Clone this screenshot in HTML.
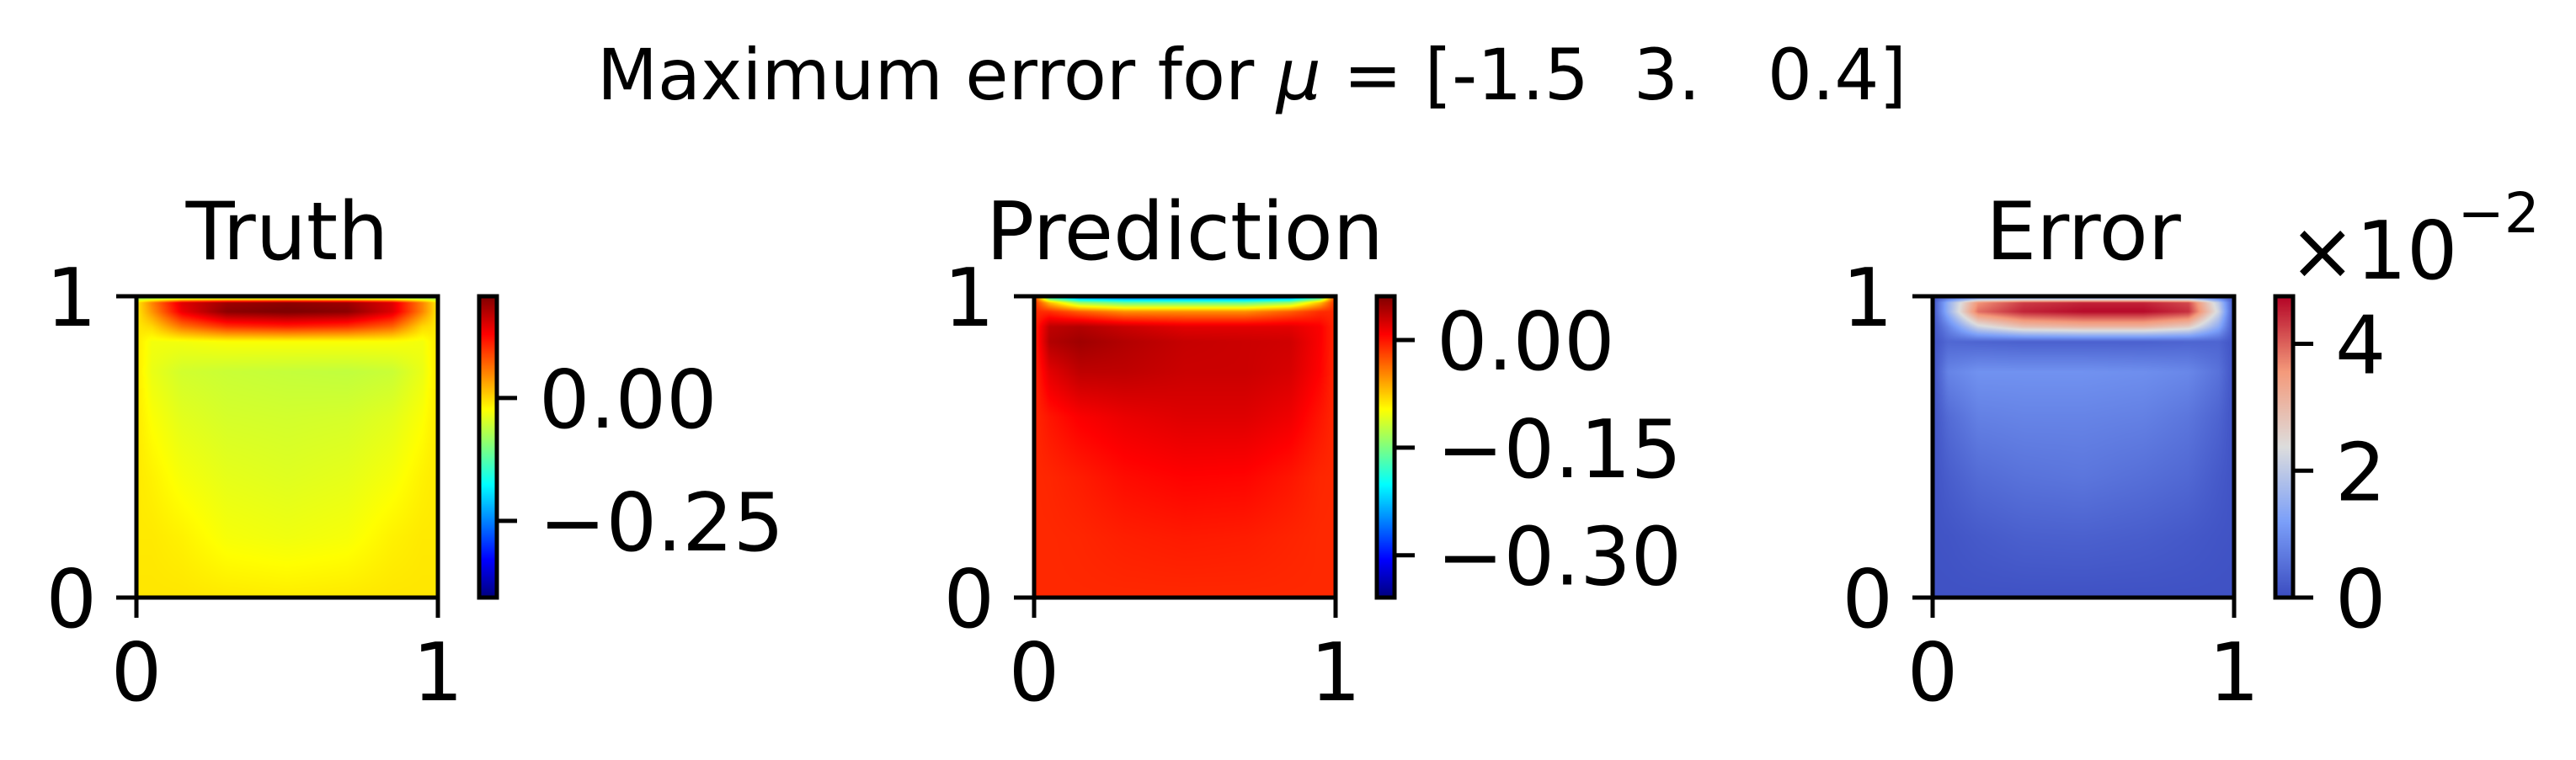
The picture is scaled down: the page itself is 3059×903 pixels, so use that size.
<!DOCTYPE html>
<html><head><meta charset="utf-8">
<style>
html,body{margin:0;padding:0;background:#fff;}
#wrap{position:relative;width:3059px;height:903px;overflow:hidden;background:#fff;}
canvas{position:absolute;}
svg{position:absolute;left:0;top:0;}
text{font-family:"DejaVu Sans","Liberation Sans",sans-serif;fill:#000;white-space:pre;}
</style></head>
<body>
<div id="wrap">
<canvas id="hm0"></canvas>
<canvas id="hm1"></canvas>
<canvas id="hm2"></canvas>
<canvas id="cb0"></canvas>
<canvas id="cb1"></canvas>
<canvas id="cb2"></canvas>
<svg id="ov" width="3059" height="903">
<text x="709" y="118" font-size="84" xml:space="preserve" textLength="1555" lengthAdjust="spacingAndGlyphs">Maximum error for <tspan font-style="italic">μ</tspan> = [-1.5  3.   0.4]</text>
<text x="2718" y="331" font-size="95">×10<tspan font-size="66" dy="-55">−2</tspan></text>
</svg>
</div>
<script>
// grid coordinates
const xCoords=[0,0.05,0.15,0.3,0.5,0.7,0.85,0.95,1];
const yCoords=[1.0,0.98,0.95,0.9,0.85,0.75,0.6,0.4,0.2,0.0];
const truthValues=[
[-0.10,-0.12,-0.14,-0.15,-0.15,-0.15,-0.14,-0.12,-0.10],
[-0.01,0.05,0.15,0.19,0.20,0.19,0.15,0.05,-0.01],
[-0.01,0.04,0.14,0.20,0.21,0.20,0.15,0.05,-0.01],
[-0.01,0.00,0.06,0.10,0.11,0.10,0.07,0.00,-0.01],
[-0.01,-0.03,-0.03,-0.025,-0.025,-0.025,-0.025,-0.03,-0.01],
[-0.01,-0.035,-0.05,-0.055,-0.058,-0.06,-0.055,-0.035,-0.01],
[-0.01,-0.025,-0.04,-0.048,-0.05,-0.048,-0.04,-0.025,-0.01],
[-0.01,-0.015,-0.028,-0.038,-0.042,-0.038,-0.028,-0.015,-0.01],
[-0.01,-0.01,-0.015,-0.028,-0.032,-0.028,-0.015,-0.01,-0.01],
[-0.008,-0.008,-0.008,-0.01,-0.012,-0.01,-0.008,-0.008,-0.008]];
const predValues=[
[-0.01,-0.2,-0.27,-0.28,-0.28,-0.28,-0.27,-0.2,-0.01],
[-0.01,-0.07,-0.14,-0.16,-0.16,-0.16,-0.14,-0.07,-0.01],
[-0.008,-0.01,-0.03,-0.05,-0.05,-0.05,-0.03,-0.01,-0.008],
[-0.008,0.035,0.04,0.03,0.02,0.02,0.02,0.01,-0.008],
[-0.008,0.04,0.048,0.04,0.032,0.03,0.028,0.01,-0.008],
[-0.008,0.02,0.035,0.035,0.03,0.03,0.025,0.008,-0.008],
[-0.008,0.0,0.01,0.017,0.022,0.022,0.015,0.0,-0.008],
[-0.008,-0.007,-0.003,0.004,0.008,0.007,0.0,-0.007,-0.008],
[-0.008,-0.008,-0.007,-0.004,-0.002,-0.003,-0.006,-0.008,-0.008],
[-0.008,-0.008,-0.008,-0.008,-0.008,-0.008,-0.008,-0.008,-0.008]];
const errValues=[
[0.1,0.3,0.5,0.5,0.5,0.5,0.5,0.3,0.1],
[0.1,1.5,3.6,4.3,4.5,4.5,4.2,2.0,0.1],
[0.1,1.5,3.9,4.5,4.7,4.7,4.4,2.2,0.1],
[0.1,0.8,2.2,2.9,3.1,3.1,2.7,1.4,0.1],
[0.1,0.4,0.35,0.3,0.3,0.3,0.35,0.35,0.1],
[0.1,0.8,1.0,1.0,1.0,0.95,0.85,0.55,0.1],
[0.1,0.45,0.75,0.8,0.8,0.75,0.6,0.35,0.1],
[0.1,0.25,0.45,0.55,0.6,0.5,0.4,0.2,0.1],
[0.1,0.12,0.2,0.28,0.3,0.25,0.18,0.12,0.1],
[0.08,0.08,0.08,0.08,0.08,0.08,0.08,0.08,0.08]];
const cbRanges=[[-0.406,0.207],[-0.359,0.061],[0,4.75]];
const cbTicks=[[0,-0.25],[0,-0.15,-0.30],[0,2,4]];
const cbTickLabels=[["0.00","−0.25"],["0.00","−0.15","−0.30"],["0","2","4"]];
const titles=["Truth","Prediction","Error"];
const axTicks=[0,1];
const axTickLabels=["0","1"];

const panels=[{x0:162,name:"truth"},{x0:1228,name:"prediction"},{x0:2295,name:"error"}];
const cbOff=407, cbW=21, axTop=352, size=358;

function jet(t){t=Math.max(0,Math.min(1,t));
 const r=Math.min(4*t-1.5,-4*t+4.5),g=Math.min(4*t-0.5,-4*t+3.5),b=Math.min(4*t+0.5,-4*t+2.5);
 const c=v=>Math.round(255*Math.max(0,Math.min(1,v)));return [c(r),c(g),c(b)];}
const cwStops=[[0,[59,76,192]],[0.25,[123,159,249]],[0.5,[221,221,221]],[0.75,[244,154,123]],[1,[180,4,38]]];
function coolwarm(t){t=Math.max(0,Math.min(1,t));for(let i=1;i<cwStops.length;i++){if(t<=cwStops[i][0]){const a=cwStops[i-1],b=cwStops[i];const f=(t-a[0])/(b[0]-a[0]);return a[1].map((v,k)=>Math.round(v+(b[1][k]-v)*f));}}return cwStops[4][1];}
const cmaps=[jet,jet,coolwarm];
const fields=[truthValues,predValues,errValues];

function seg(arr,v){for(let i=0;i<arr.length-1;i++){const a=arr[i],b=arr[i+1];const lo=Math.min(a,b),hi=Math.max(a,b);if(v>=lo&&v<=hi){return [i,(v-a)/(b-a)];}}return [arr.length-2,1];}
function sample(F,x,y){const [i,fx]=seg(xCoords,x);const [j,fy]=seg(yCoords,y);
 const a=F[j][i],b=F[j][i+1],c=F[j+1][i],d=F[j+1][i+1];
 return (a*(1-fx)+b*fx)*(1-fy)+(c*(1-fx)+d*fx)*fy;}

const ov=document.getElementById('ov');
const NS="http://www.w3.org/2000/svg";
function mk(tag,attrs,parent){const e=document.createElementNS(NS,tag);for(const k in attrs)e.setAttribute(k,attrs[k]);(parent||ov).appendChild(e);return e;}

panels.forEach((p,k)=>{
 const [vmin,vmax]=cbRanges[k];const cm=cmaps[k];
 const cv=document.getElementById('hm'+k);cv.width=size;cv.height=size;cv.style.left=p.x0+'px';cv.style.top=axTop+'px';
 const ctx=cv.getContext('2d');const img=ctx.createImageData(size,size);
 for(let py=0;py<size;py++){const y=1-py/(size-1);for(let px=0;px<size;px++){const x=px/(size-1);
  const v=sample(fields[k],x,y);const c=cm((v-vmin)/(vmax-vmin));const o=(py*size+px)*4;img.data[o]=c[0];img.data[o+1]=c[1];img.data[o+2]=c[2];img.data[o+3]=255;}}
 ctx.putImageData(img,0,0);
 const cbx=p.x0+cbOff;const cb=document.getElementById('cb'+k);cb.width=cbW;cb.height=size;cb.style.left=cbx+'px';cb.style.top=axTop+'px';
 const c2=cb.getContext('2d');for(let py=0;py<size;py++){const c=cm(1-py/(size-1));c2.fillStyle=`rgb(${c[0]},${c[1]},${c[2]})`;c2.fillRect(0,py,cbW,1);}
 const g=mk('g',{});
 
 
 mk('rect',{x:p.x0,y:axTop,width:size,height:size,fill:'none',stroke:'#000','stroke-width':5},g);
 const sx=v=>p.x0+v*size, sy=v=>axTop+size-v*size;
 axTicks.forEach((t,i)=>{
  mk('line',{x1:sx(t),x2:sx(t),y1:axTop+size,y2:axTop+size+24,stroke:'#000','stroke-width':5},g);
  const tx=mk('text',{x:sx(t),y:832,'font-size':95,'text-anchor':'middle'},g);tx.textContent=axTickLabels[i];
  
  
  mk('line',{x1:p.x0-24,x2:p.x0,y1:sy(t),y2:sy(t),stroke:'#000','stroke-width':5},g);
  const ty=mk('text',{x:p.x0-47,y:sy(t)+35,'font-size':95,'text-anchor':'end'},g);ty.textContent=axTickLabels[i];
  
  
 });
 const tt=mk('text',{x:p.x0+size/2,y:308,'font-size':95,'text-anchor':'middle'},g);tt.textContent=titles[k];
 
 
 const cg=mk('g',{});
 
 
 mk('rect',{x:cbx,y:axTop,width:cbW,height:size,fill:'none',stroke:'#000','stroke-width':5},cg);
 const cy=v=>axTop+size-(v-vmin)/(vmax-vmin)*size;
 cbTicks[k].forEach((t,i)=>{
  mk('line',{x1:cbx+cbW,x2:cbx+cbW+24,y1:cy(t),y2:cy(t),stroke:'#000','stroke-width':5},cg);
  const tl=mk('text',{x:cbx+cbW+50,y:cy(t)+35,'font-size':95},cg);tl.textContent=cbTickLabels[k][i];
  
  
 });
});
</script>
</body></html>
